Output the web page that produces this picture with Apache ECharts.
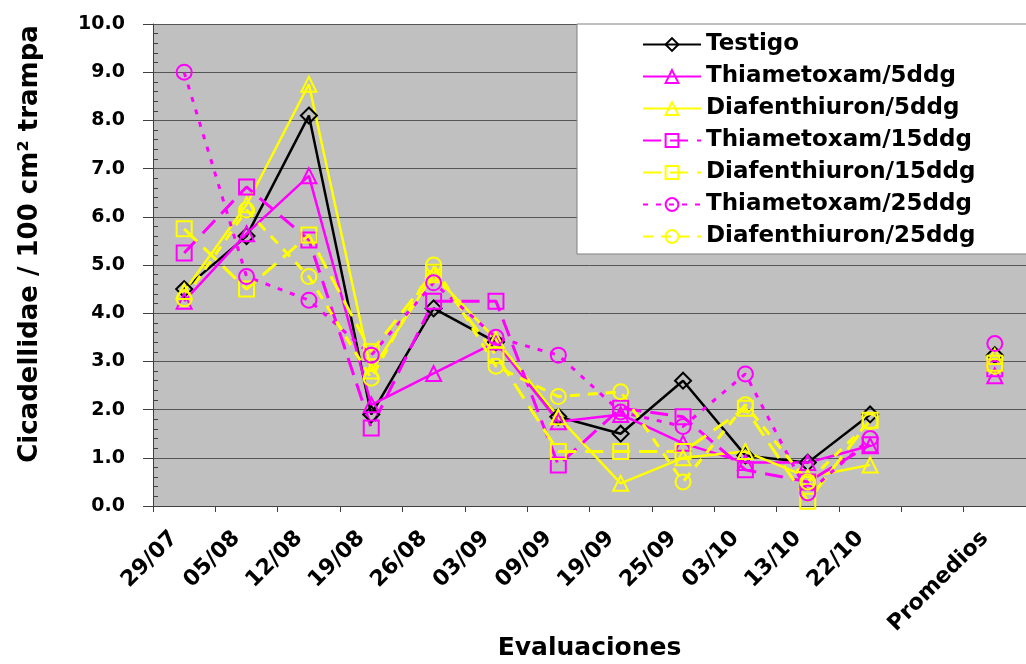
<!DOCTYPE html>
<html>
<head>
<meta charset="utf-8">
<script src="https://cdn.jsdelivr.net/npm/echarts@6/dist/echarts.min.js"></script>
<style>
  html, body { margin: 0; padding: 0; background: #fff; }
  #chart { width: 1026px; height: 664px; }
</style>
</head>
<body>
<div id="chart"></div>
<script>
  // fechas de evaluacion (la penultima queda vacia, luego promedios)
  var categorias = ['29/07', '05/08', '12/08', '19/08', '26/08', '03/09', '09/09', '19/09', '25/09', '03/10', '13/10', '22/10', '', 'Promedios'];
  var yTicks = [0, 1, 2, 3, 4, 5, 6, 7, 8, 9, 10];

  var testigo   = [4.5, 5.6, 8.1, 1.9, 4.1, 3.4, 1.85, 1.5, 2.6, 1.05, 0.9, 1.9, null, 3.13];
  var tiam5     = [4.25, 5.65, 6.85, 2.1, 2.75, 3.4, 1.75, 1.9, 1.3, 0.9, 0.9, 1.25, null, 2.7];
  var diaf5     = [4.45, 6.25, 8.75, 2.8, 4.8, 3.45, 1.85, 0.47, 1.0, 1.13, 0.6, 0.85, null, 3.1];
  var tiam15    = [5.25, 6.62, 5.52, 1.62, 4.25, 4.25, 0.85, 2.03, 1.85, 0.75, 0.5, 1.27, null, 2.85];
  var diaf15    = [5.75, 4.5, 5.62, 3.2, 4.85, 3.13, 1.13, 1.13, 1.13, 2.03, 0.1, 1.78, null, 2.96];
  var tiam25    = [9.0, 4.76, 4.27, 3.13, 4.63, 3.5, 3.13, 1.95, 1.65, 2.74, 0.27, 1.4, null, 3.37];
  var diaf25    = [4.3, 6.14, 4.76, 2.65, 5.0, 2.9, 2.27, 2.37, 0.5, 2.1, 0.5, 1.75, null, 2.9];

  var FONT = '"DejaVu Sans", "Liberation Sans", Arial, sans-serif';
  var MAG = '#FF00FF', AMA = '#FFFF00', NEG = '#000000';

  var serie = function(nombre, datos, color, simbolo, tipo, ancho){
    return {
      name: nombre,
      type: 'line',
      data: datos,
      symbol: simbolo,
      symbolSize: simbolo == 'diamond' ? 16 : 15,
      connectNulls: false,
      lineStyle: { color: color, width: ancho, type: tipo },
      itemStyle: { color: 'rgba(0,0,0,0)', borderColor: color, borderWidth: 2 },
      emphasis: { disabled: true }
    };
  };

  var myChart = echarts.init(document.getElementById('chart'));
  var option = {
    animation: false,
    backgroundColor: '#fff',
    grid: {
      left: 153, right: 0, top: 24, bottom: 158,
      outerBoundsMode: 'none', containLabel: false,
      show: true, backgroundColor: '#C0C0C0', borderWidth: 0
    },
    legend: {
      orient: 'vertical',
      left: 577,
      top: 24,
      backgroundColor: '#fff',
      borderColor: '#808080',
      borderWidth: 1,
      padding: [9, 70, 6, 65],
      itemWidth: 58,
      itemHeight: 16,
      itemGap: 9,
      textStyle: { fontFamily: FONT, fontWeight: 'bold', fontSize: 23, lineHeight: 22, color: '#000' },
      data: ['Testigo', 'Thiametoxam/5ddg', 'Diafenthiuron/5ddg', 'Thiametoxam/15ddg', 'Diafenthiuron/15ddg', 'Thiametoxam/25ddg', 'Diafenthiuron/25ddg']
    },
    xAxis: {
      type: 'category',
      data: categorias,
      boundaryGap: true,
      name: 'Evaluaciones',
      nameLocation: 'middle',
      nameGap: 130,
      nameMoveOverlap: false,
      nameTextStyle: { fontFamily: FONT, fontWeight: 'bold', fontSize: 25, color: '#000' },
      axisLine: { lineStyle: { color: '#404040', width: 1 } },
      axisTick: { show: true, length: 6, alignWithLabel: false, lineStyle: { color: '#404040' } },
      axisLabel: { interval: 0, rotate: 45, margin: 19, padding: [0, 14, 0, 0], fontFamily: FONT, fontWeight: 'bold', fontSize: 22, color: '#000' },
      splitLine: { show: false }
    },
    yAxis: {
      type: 'value',
      min: 0,
      max: 10,
      interval: 1,
      axisLine: { show: true, lineStyle: { color: '#404040', width: 1 } },
      axisTick: { show: true, length: 10, lineStyle: { color: '#404040' } },
      minorTick: { show: true, splitNumber: 5, length: -5, lineStyle: { color: '#404040' } },
      axisLabel: {
        margin: 28,
        fontFamily: FONT, fontWeight: 'bold', fontSize: 19, color: '#000',
        formatter: function(v){ return yTicks.indexOf(v) >= 0 ? v.toFixed(1) : ''; }
      },
      splitLine: { show: true, lineStyle: { color: '#555555', width: 1 } }
    },
    graphic: [{
      type: 'text',
      x: 30,
      y: 244,
      rotation: Math.PI / 2,
      style: {
        text: 'Cicadellidae / 100 cm\u00B2 trampa',
        font: 'bold 26px ' + FONT,
        fill: '#000',
        textAlign: 'center',
        textVerticalAlign: 'middle'
      }
    }],
    series: [
      serie('Testigo', testigo, NEG, 'diamond', 'solid', 2.5),
      serie('Thiametoxam/5ddg', tiam5, MAG, 'triangle', 'solid', 2.5),
      serie('Diafenthiuron/5ddg', diaf5, AMA, 'triangle', 'solid', 2.5),
      serie('Thiametoxam/15ddg', tiam15, MAG, 'rect', [18, 9], 3),
      serie('Diafenthiuron/15ddg', diaf15, AMA, 'rect', [18, 9], 3),
      serie('Thiametoxam/25ddg', tiam25, MAG, 'circle', [5, 8], 3),
      serie('Diafenthiuron/25ddg', diaf25, AMA, 'circle', [10, 8], 3)
    ]
  };
  myChart.setOption(option);
</script>
</body>
</html>
